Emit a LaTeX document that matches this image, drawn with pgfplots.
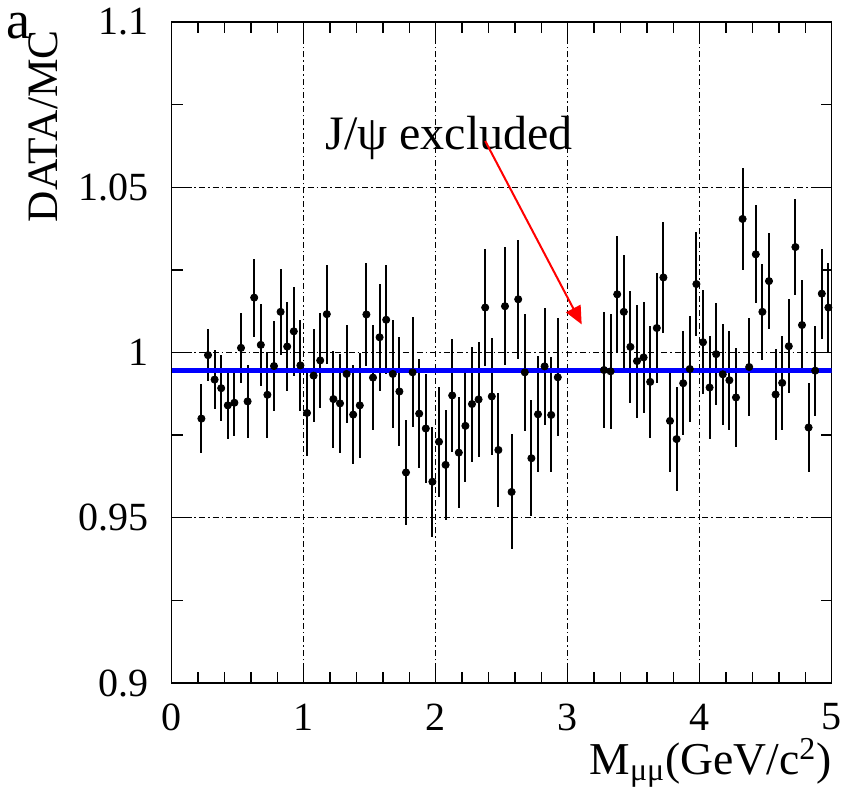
\documentclass[border=0pt]{standalone}
\usepackage{fontspec}
\setmainfont{Liberation Serif}
\usepackage{pgfplots}
\pgfplotsset{compat=1.18}
\usepackage{pgfplotstable}
\usetikzlibrary{arrows.meta}
\pgfplotstableread{
x y e
0.225 0.9800 0.0104
0.275 0.9992 0.0079
0.325 0.9918 0.0090
0.375 0.9892 0.0099
0.425 0.9840 0.0101
0.475 0.9848 0.0101
0.525 1.0014 0.0106
0.575 0.9852 0.0110
0.625 1.0166 0.0118
0.675 1.0023 0.0124
0.725 0.9872 0.0130
0.775 0.9959 0.0136
0.825 1.0123 0.0131
0.875 1.0018 0.0135
0.925 1.0064 0.0134
0.975 0.9961 0.0137
1.025 0.9817 0.0130
1.075 0.9930 0.0141
1.125 0.9976 0.0144
1.175 1.0116 0.0150
1.225 0.9859 0.0147
1.275 0.9846 0.0149
1.325 0.9935 0.0149
1.375 0.9812 0.0149
1.425 0.9840 0.0158
1.475 1.0115 0.0157
1.525 0.9924 0.0158
1.575 1.0046 0.0162
1.625 1.0099 0.0165
1.675 0.9935 0.0162
1.725 0.9882 0.0164
1.775 0.9637 0.0160
1.825 0.9940 0.0166
1.875 0.9815 0.0166
1.925 0.9770 0.0166
1.975 0.9609 0.0167
2.025 0.9730 0.0166
2.075 0.9660 0.0166
2.125 0.9870 0.0172
2.175 0.9697 0.0169
2.225 0.9778 0.0170
2.275 0.9844 0.0174
2.325 0.9858 0.0175
2.375 1.0136 0.0178
2.425 0.9867 0.0176
2.475 0.9705 0.0172
2.525 1.0140 0.0179
2.575 0.9578 0.0174
2.625 1.0161 0.0180
2.675 0.9940 0.0177
2.725 0.9680 0.0176
2.775 0.9813 0.0176
2.825 0.9958 0.0178
2.875 0.9811 0.0174
2.925 0.9925 0.0178
3.275 0.9947 0.0174
3.325 0.9943 0.0173
3.375 1.0176 0.0177
3.425 1.0123 0.0173
3.475 1.0017 0.0169
3.525 0.9974 0.0171
3.575 0.9985 0.0169
3.625 0.9911 0.0170
3.675 1.0074 0.0167
3.725 1.0227 0.0167
3.775 0.9793 0.0156
3.825 0.9738 0.0158
3.875 0.9907 0.0158
3.925 0.9950 0.0159
3.975 1.0207 0.0158
4.025 1.0031 0.0158
4.075 0.9894 0.0156
4.125 0.9995 0.0154
4.175 0.9934 0.0152
4.225 0.9916 0.0150
4.275 0.9864 0.0149
4.325 1.0404 0.0154
4.375 0.9956 0.0148
4.425 1.0297 0.0148
4.475 1.0123 0.0145
4.525 1.0216 0.0146
4.575 0.9873 0.0139
4.625 0.9908 0.0142
4.675 1.0019 0.0142
4.725 1.0319 0.0144
4.775 1.0083 0.0137
4.825 0.9773 0.0134
4.875 0.9945 0.0136
4.925 1.0178 0.0136
4.975 1.0136 0.0136
}\ratio
\begin{document}
\fontsize{20}{24}\selectfont
\begin{tikzpicture}
\begin{axis}[
  scale only axis, width=330pt, height=330.5pt,
  xmin=0, xmax=5, ymin=0.9, ymax=1.1,
  xtick={0,1,2,3,4,5}, ytick={0.9,0.95,1,1.05,1.1},
  minor x tick num=4, minor y tick num=1,
  major tick length=10pt, minor tick length=5.5pt,
  tick style={black, line width=0.7pt},
  axis line style={line width=0.8pt},
  grid=major,
  grid style={black, line width=0.6pt, dash pattern=on 3pt off 1.5pt on 0.8pt off 1.5pt},
  /pgf/number format/assume math mode=true,
  yticklabel style={/pgf/number format/fixed, /pgf/number format/precision=2, xshift=-4.5pt},
  xticklabel style={yshift=-3.5pt},
]
\addplot[only marks, mark=*, mark size=1.8pt, black,
  error bars/.cd, y dir=both, y explicit, error mark=none,
  error bar style={line width=1pt, black}]
  table[x=x, y=y, y error=e] {\ratio};
\addplot[blue, line width=2.5pt] coordinates {(0,0.9947) (5,0.9947)};
\node[anchor=base west, inner sep=0pt, font=\fontsize{24}{28}\selectfont] at (axis cs:1.161,1.0613) {J/ψ excluded};
\draw[red, line width=1pt, -{Triangle[length=9pt,width=8pt]}] (axis cs:2.375,1.0640) -- (axis cs:3.106,1.0085);
\coordinate (O) at (rel axis cs:0,0);
\end{axis}
\node[rotate=90, anchor=south east, inner sep=0pt, font=\fontsize{21.7}{26}\selectfont] at ([shift={(-56.85pt,326.5pt)}]O) {DATA/MC};
\node[anchor=north east, inner sep=0pt, font=\fontsize{22.8}{27}\selectfont] at ([shift={(330.15pt,-27.5pt)}]O) {M\textsubscript{μμ}(GeV/c\textsuperscript{2})};
\node[anchor=base west, inner sep=0pt, font=\fontsize{27}{31}\selectfont] at ([shift={(-83pt,322pt)}]O) {a};
\pgfresetboundingbox
\path ([shift={(-85.85pt,-56.5pt)}]O) rectangle ([shift={(339.65pt,341.5pt)}]O);
\end{tikzpicture}
\end{document}
